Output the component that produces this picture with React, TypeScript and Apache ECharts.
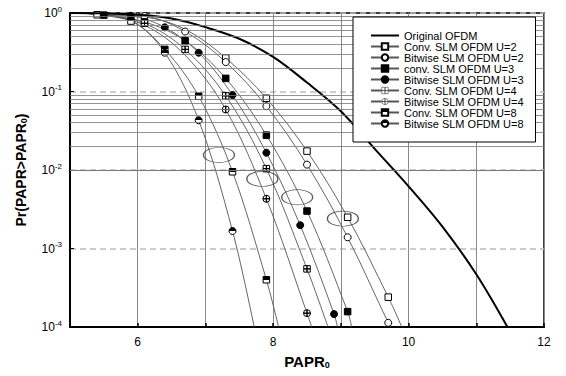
import React, { useEffect, useRef } from "react";
import * as echarts from "echarts";

// ---- data ----
const origX = [5, 5.5, 6, 6.5, 7, 7.5, 8, 8.5, 9, 9.5, 10, 10.5, 11, 11.46];
const origY = [1, 0.99, 0.95, 0.85, 0.66, 0.47, 0.276, 0.13, 0.056, 0.0186, 0.0062, 0.0019, 4.7e-4, 1e-4];

const conv2X = [5.2, 5.4, 6.1, 6.7, 7.3, 7.9, 8.5, 9.1, 9.7, 9.9];
const conv2Y = [0.995, 0.95, 0.89, 0.62, 0.267, 0.082, 0.0174, 0.0025, 2.4e-4, 1e-4];
const conv2M = [0, 1, 0, 0, 1, 1, 1, 1, 1, 0];

const bit2X = [5.2, 6.1, 6.7, 7.3, 7.9, 8.5, 9.1, 9.7, 9.74];
const bit2Y = [0.995, 0.916, 0.58, 0.237, 0.065, 0.0117, 0.00139, 1.13e-4, 1e-4];
const bit2M = [0, 1, 1, 1, 1, 1, 1, 1, 0];

const conv3X = [5.2, 5.5, 6.1, 6.7, 7.3, 7.9, 8.5, 9.1, 9.16];
const conv3Y = [0.995, 0.94, 0.77, 0.443, 0.147, 0.0278, 0.003, 1.57e-4, 1e-4];
const conv3M = [0, 1, 1, 1, 1, 1, 1, 1, 0];

const bit3X = [5.2, 5.9, 6.4, 6.9, 7.4, 7.9, 8.4, 8.9, 8.95];
const bit3Y = [0.995, 0.92, 0.657, 0.312, 0.09, 0.0166, 0.00198, 1.46e-4, 1e-4];
const bit3M = [0, 1, 1, 1, 1, 1, 1, 1, 0];

const conv4X = [5.2, 5.5, 6.1, 6.7, 7.3, 7.9, 8.5, 8.81];
const conv4Y = [0.995, 0.95, 0.74, 0.344, 0.088, 0.0104, 5.5e-4, 1e-4];
const conv4M = [0, 0, 1, 1, 1, 1, 1, 0];

const bit4X = [5.2, 5.5, 6.1, 6.7, 7.3, 7.9, 8.5, 8.57];
const bit4Y = [0.995, 0.94, 0.7, 0.29, 0.059, 0.0043, 1.5e-4, 1e-4];
const bit4M = [0, 0, 0, 0, 1, 1, 1, 0];

const conv8X = [5.2, 5.9, 6.4, 6.9, 7.4, 7.9, 8.08];
const conv8Y = [0.995, 0.79, 0.344, 0.087, 0.0095, 4.0e-4, 1e-4];
const conv8M = [0, 1, 1, 1, 1, 1, 0];

const bit8X = [5.2, 5.9, 6.4, 6.9, 7.4, 7.72];
const bit8Y = [0.995, 0.8, 0.312, 0.043, 0.00167, 1e-4];
const bit8M = [0, 0, 1, 1, 1, 0];

const ellipseX = [7.2, 7.84, 8.355, 9.03];
const ellipseY = [0.0155, 0.0077, 0.0045, 0.0024];

const seriesNames = [
  "Original OFDM",
  "Conv. SLM OFDM U=2",
  "Bitwise SLM OFDM U=2",
  "conv. SLM OFDM U=3",
  "Bitwise SLM OFDM U=3",
  "Conv. SLM OFDM U=4",
  "Bitwise SLM OFDM U=4",
  "Conv. SLM OFDM U=8",
  "Bitwise SLM OFDM U=8",
];

const FONT = "'Liberation Sans', Arial, sans-serif";

function pts(xs: number[], ys: number[], marks: number[]) {
  return xs.map((x, i) =>
    marks[i] ? { value: [x, ys[i]] } : { value: [x, ys[i]], symbol: "none" }
  );
}

export default function App() {
  const ref = useRef<HTMLDivElement>(null);
  useEffect(() => {
    if (!ref.current) return;
    const chart = echarts.init(ref.current, undefined, { renderer: "svg" });
    const half = new echarts.graphic.LinearGradient(0, 0, 0, 1, [
      { offset: 0, color: "#000" },
      { offset: 0.5, color: "#000" },
      { offset: 0.5, color: "#fff" },
      { offset: 1, color: "#fff" },
    ]);
    const crossSq = "path://M0,0H10V10H0Z M5,0V10V0Z M0,5H10H0Z";
    const crossCi =
      "path://M0,5A5,5 0 1,1 10,5A5,5 0 1,1 0,5Z M5,0V10V0Z M0,5H10H0Z";

    const minorVals: number[] = [];
    for (let d = -4; d < 0; d++) {
      for (let k = 2; k <= 9; k++) minorVals.push(k * Math.pow(10, d));
    }

    const curve = (
      name: string,
      data: any[],
      symbol: string,
      fill: any,
      size = 7
    ) => ({
      name,
      type: "line",
      data,
      symbol,
      symbolSize: size,
      showAllSymbol: true,
      smooth: 0.35,
      lineStyle: { color: "#555", width: 0.9 },
      itemStyle: { color: fill, borderColor: "#000", borderWidth: 1 },
      z: 3,
    });

    const thinIcon = { borderWidth: 0.6, borderColor: "#444" };

    chart.setOption({
      animation: false,
      backgroundColor: "#fff",
      textStyle: { fontFamily: FONT },
      grid: {
        left: 70,
        top: 13,
        width: 474,
        height: 314,
        show: true,
        borderColor: "#000",
        borderWidth: 1.5,
        backgroundColor: "transparent",
      },
      legend: {
        data: [
          { name: seriesNames[0], itemStyle: { opacity: 0 } },
          seriesNames[1],
          seriesNames[2],
          seriesNames[3],
          seriesNames[4],
          { name: seriesNames[5], itemStyle: thinIcon },
          { name: seriesNames[6], itemStyle: thinIcon },
          seriesNames[7],
          seriesNames[8],
        ],
        orient: "vertical",
        left: 353,
        top: 17,
        padding: [13, 12, 13, 17],
        itemWidth: 28,
        itemHeight: 8,
        itemGap: 0,
        backgroundColor: "#fff",
        borderColor: "#000",
        borderWidth: 1,
        borderRadius: 0,
        z: 10,
        textStyle: { fontSize: 11, color: "#000", fontFamily: FONT, lineHeight: 10.45 },
      },
      xAxis: {
        type: "value",
        min: 5,
        max: 12,
        interval: 1,
        name: "{a|PAPR}{s|0}",
        nameLocation: "middle",
        nameGap: 27,
        nameTextStyle: {
          rich: {
            a: { fontSize: 15, fontWeight: "bold", color: "#000", fontFamily: FONT },
            s: { fontSize: 9, fontWeight: "bold", color: "#000", verticalAlign: "bottom", fontFamily: FONT },
          },
        },
        axisLine: { show: true, lineStyle: { color: "#000", width: 2 } },
        axisTick: { show: true, inside: true, length: 4, lineStyle: { color: "#000", width: 1.5 } },
        axisLabel: {
          fontSize: 12,
          color: "#000",
          margin: 9,
          formatter: (v: number) => (v % 2 === 0 ? String(v) : ""),
        },
        splitLine: { show: true, lineStyle: { color: "#8a8a8a", width: 1 } },
      },
      yAxis: {
        type: "log",
        logBase: 10,
        min: 1e-4,
        max: 1,
        name: "{a|Pr(PAPR>PAPR}{s|0}{a|)}",
        nameLocation: "middle",
        nameGap: 42,
        nameTextStyle: {
          rich: {
            a: { fontSize: 14, fontWeight: "bold", color: "#000", fontFamily: FONT },
            s: { fontSize: 9, fontWeight: "bold", color: "#000", verticalAlign: "bottom", fontFamily: FONT },
          },
        },
        axisLine: { show: true, lineStyle: { color: "#000", width: 2 } },
        axisTick: { show: true, inside: true, length: 4, lineStyle: { color: "#000" } },
        axisLabel: {
          margin: 8,
          formatter: (v: number) => `{b|10}{s|${Math.round(Math.log10(v))}}`,
          rich: {
            b: { fontSize: 12, color: "#000", fontFamily: FONT, lineHeight: 16 },
            s: { fontSize: 8, color: "#000", fontFamily: FONT, verticalAlign: "top" },
          },
        },
        splitLine: { show: true, lineStyle: { color: "#bdbdbd", width: 1.5, type: [6, 4] } },
      },
      series: [
        {
          name: "minor-grid",
          type: "line",
          data: [],
          silent: true,
          z: 1,
          markLine: {
            silent: true,
            symbol: "none",
            label: { show: false },
            lineStyle: { color: "#777", width: 0.8, type: "solid" },
            data: minorVals.map((v) => ({ yAxis: v })),
          },
        },
        {
          name: seriesNames[0],
          type: "line",
          data: origX.map((x, i) => [x, origY[i]]),
          symbol: "none",
          smooth: 0.35,
          lineStyle: { color: "#000", width: 2 },
          itemStyle: { color: "#000" },
          z: 4,
        },
        curve(seriesNames[1], pts(conv2X, conv2Y, conv2M), "rect", "#fff", 6.5),
        curve(seriesNames[2], pts(bit2X, bit2Y, bit2M), "circle", "#fff"),
        curve(seriesNames[3], pts(conv3X, conv3Y, conv3M), "rect", "#000", 6.5),
        curve(seriesNames[4], pts(bit3X, bit3Y, bit3M), "circle", "#000"),
        curve(seriesNames[5], pts(conv4X, conv4Y, conv4M), crossSq, "#fff", 6.5),
        curve(seriesNames[6], pts(bit4X, bit4Y, bit4M), crossCi, "#fff"),
        curve(seriesNames[7], pts(conv8X, conv8Y, conv8M), "rect", half, 6.5),
        curve(seriesNames[8], pts(bit8X, bit8Y, bit8M), "circle", half),
        {
          name: "ellipses",
          type: "scatter",
          data: ellipseX.map((x, i) => [x, ellipseY[i]]),
          symbol: "circle",
          symbolSize: [31, 15],
          itemStyle: { color: "rgba(0,0,0,0)", borderColor: "#333", borderWidth: 1 },
          silent: true,
          z: 5,
        },
      ],
    });
    return () => chart.dispose();
  }, []);
  return (
    <div
      ref={ref}
      style={{ position: "absolute", left: 0, top: 0, width: 566, height: 376, background: "#fff" }}
    />
  );
}
